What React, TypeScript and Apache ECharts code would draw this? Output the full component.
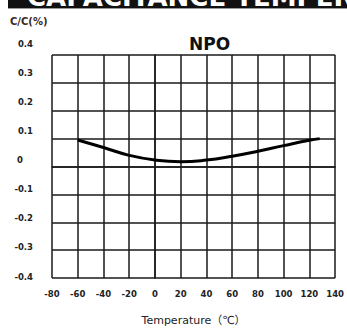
import React, { useEffect, useRef } from "react";
import * as echarts from "echarts";

const bannerText = "CAPACITANCE TEMPERATURE";
const chartTitle = "NPO";
const yAxisTitle = "C/C(%)";
const xAxisTitle = "Temperature（℃）";
const temperatures = [-60, -40, -20, 0, 20, 40, 60, 80, 100, 120, 128];
const capChange = [0.095, 0.068, 0.04, 0.023, 0.017, 0.023, 0.037, 0.055, 0.075, 0.094, 0.1];
const xMin = -80;
const xMax = 140;
const xStep = 20;
const yMin = -0.4;
const yMax = 0.4;
const yStep = 0.1;

const FONT = "DejaVu Sans, Verdana, sans-serif";
const INK = "#222";
const GRIDLINE = { color: "#1a1a1a", width: 1.5 };

export default function App() {
  const ref = useRef<HTMLDivElement>(null);
  useEffect(() => {
    document.body.style.margin = "0";
    if (!ref.current) return;
    const chart = echarts.init(ref.current, null, { renderer: "svg" });
    chart.setOption({
      animation: false,
      backgroundColor: "#fff",
      title: {
        text: chartTitle,
        left: 184,
        top: 30,
        textStyle: { fontSize: 17, fontWeight: "bold", color: "#111", fontFamily: FONT },
      },
      graphic: [
        { type: "rect", shape: { x: 8, y: 0, width: 339, height: 8 }, style: { fill: "#111" } },
        { type: "rect", shape: { x: 8, y: 8, width: 339, height: 1 }, style: { fill: "#999" } },
        {
          type: "text",
          x: 27,
          y: 10,
          style: {
            text: bannerText,
            font: `bold 26px ${FONT}`,
            fill: "#fff",
            textVerticalAlign: "bottom",
          },
        },
        {
          type: "text",
          x: 10,
          y: 21,
          style: {
            text: yAxisTitle,
            font: `bold 10px ${FONT}`,
            fill: "#3a2a22",
            textVerticalAlign: "middle",
          },
        },
      ],
      grid: [
        { left: 52, right: 11, top: 55, bottom: 54 },
        { left: 52, right: 11, top: 43.5, bottom: 55.5 },
      ],
      xAxis: [
        {
          type: "value",
          gridIndex: 0,
          min: xMin,
          max: xMax,
          interval: xStep,
          axisLine: { show: true, lineStyle: GRIDLINE },
          axisTick: { show: false },
          splitLine: { show: true, lineStyle: GRIDLINE },
          axisLabel: { fontSize: 8.5, fontWeight: "bold", color: INK, fontFamily: FONT, margin: 11 },
          name: xAxisTitle,
          nameLocation: "middle",
          nameGap: 37,
          nameTextStyle: { fontSize: 11, color: INK, fontFamily: FONT + ", Noto Sans CJK SC" },
        },
        { type: "value", gridIndex: 1, min: xMin, max: xMax, show: false },
      ],
      yAxis: [
        {
          type: "value",
          gridIndex: 0,
          min: yMin,
          max: yMax,
          interval: yStep,
          axisLine: { show: true, lineStyle: GRIDLINE },
          axisTick: { show: false },
          axisLabel: { show: false },
          splitLine: { show: true, lineStyle: GRIDLINE },
        },
        {
          type: "value",
          gridIndex: 1,
          min: yMin,
          max: yMax,
          interval: yStep,
          axisLine: { show: false },
          axisTick: { show: false },
          splitLine: { show: false },
          axisLabel: {
            fontSize: 8.5,
            fontWeight: "bold",
            color: INK,
            fontFamily: FONT,
            align: "right",
            margin: 19,
            formatter: (v: number) => (Math.abs(v) < 1e-9 ? "{z|0}" : v.toFixed(1)),
            rich: {
              z: { fontSize: 8.5, fontWeight: "bold", color: INK, fontFamily: FONT, padding: [0, 10, 0, 0] },
            },
          },
        },
      ],
      series: [
        {
          type: "line",
          xAxisIndex: 0,
          yAxisIndex: 0,
          smooth: true,
          symbol: "none",
          lineStyle: { color: "#000", width: 3 },
          data: temperatures.map((t, i) => [t, capChange[i]]),
        },
      ],
    });
    return () => chart.dispose();
  }, []);
  return <div ref={ref} style={{ width: 347, height: 332 }} />;
}
